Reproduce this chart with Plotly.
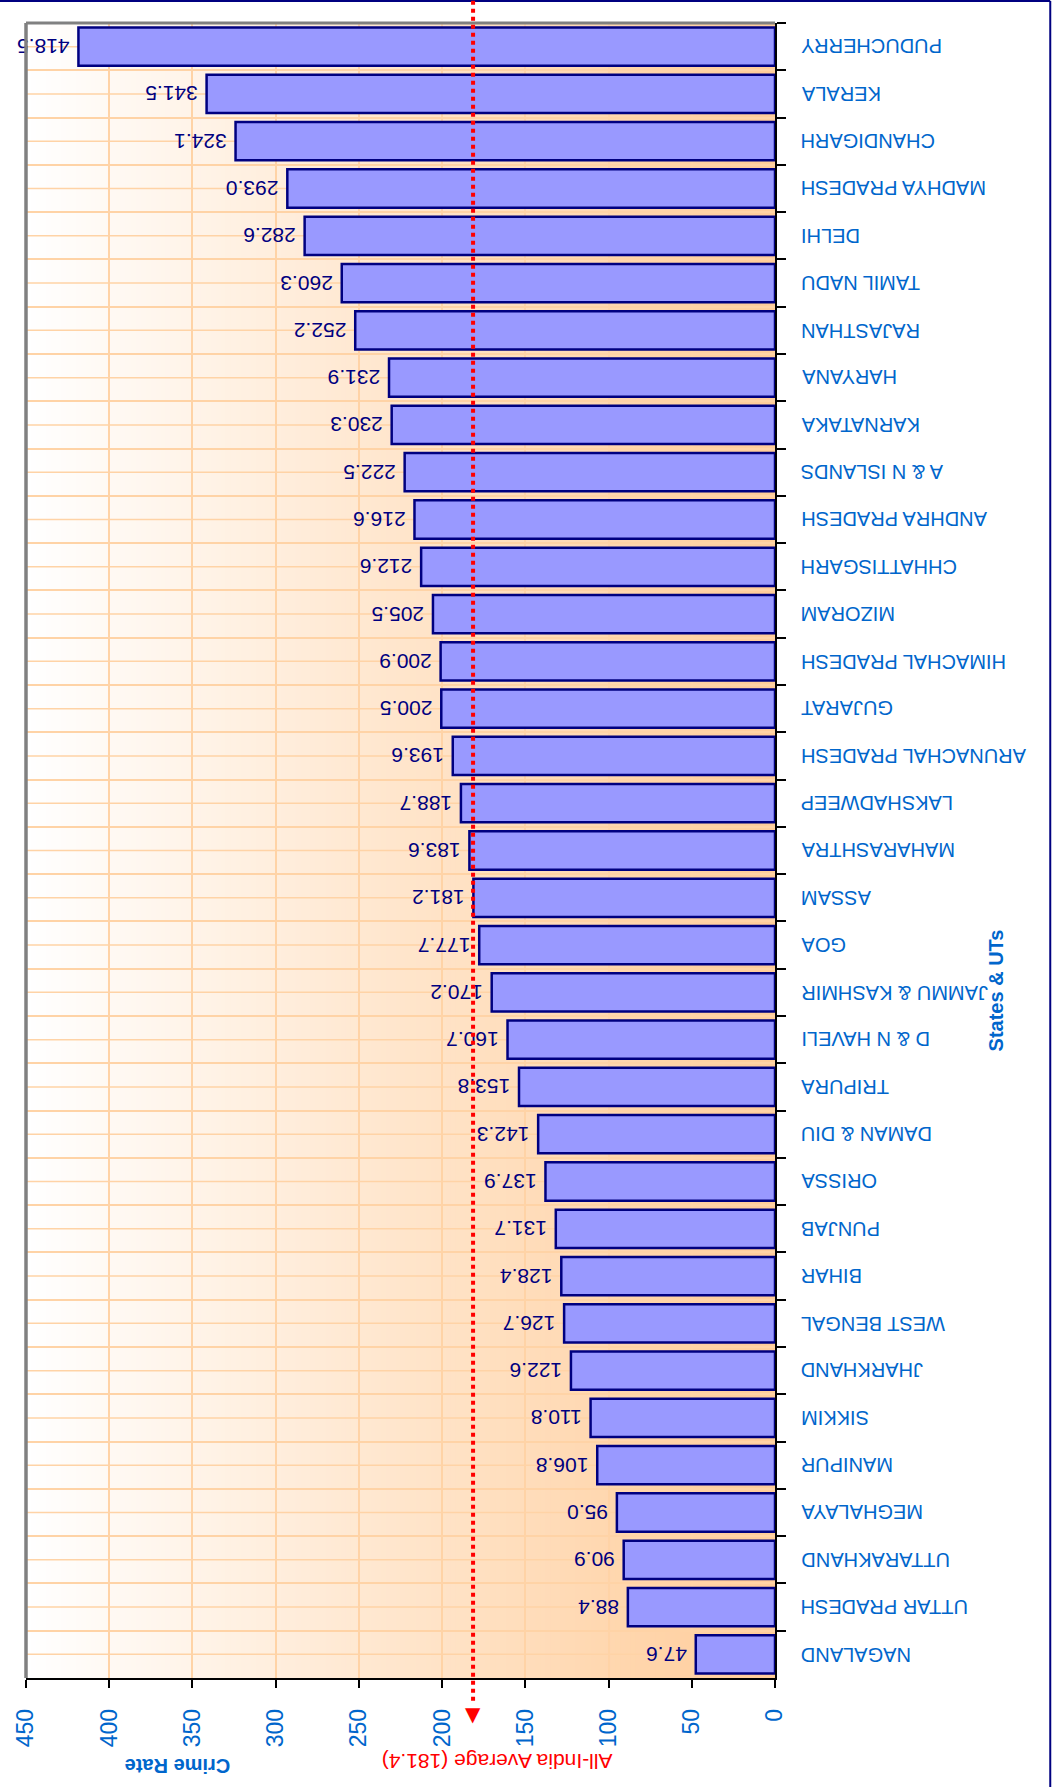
import plotly.graph_objects as go

# Crime rate by State / UT, listed top to bottom
states = [
    "PUDUCHERRY", "KERALA", "CHANDIGARH", "MADHYA PRADESH", "DELHI",
    "TAMIL NADU", "RAJASTHAN", "HARYANA", "KARNATAKA", "A & N ISLANDS",
    "ANDHRA PRADESH", "CHHATTISGARH", "MIZORAM", "HIMACHAL PRADESH", "GUJARAT",
    "ARUNACHAL PRADESH", "LAKSHADWEEP", "MAHARASHTRA", "ASSAM", "GOA",
    "JAMMU & KASHMIR", "D & N HAVELI", "TRIPURA", "DAMAN & DIU", "ORISSA",
    "PUNJAB", "BIHAR", "WEST BENGAL", "JHARKHAND", "SIKKIM",
    "MANIPUR", "MEGHALAYA", "UTTARAKHAND", "UTTAR PRADESH", "NAGALAND",
]
crime_rate = [
    418.5, 341.5, 324.1, 293.0, 282.6,
    260.3, 252.2, 231.9, 230.3, 222.5,
    216.6, 212.6, 205.5, 200.9, 200.5,
    193.6, 188.7, 183.6, 181.2, 177.7,
    170.2, 160.7, 153.8, 142.3, 137.9,
    131.7, 128.4, 126.7, 122.6, 110.8,
    106.8, 95.0, 90.9, 88.4, 47.6,
]
all_india_avg = 181.4
x_ticks = [0, 50, 100, 150, 200, 250, 300, 350, 400, 450]

BLUE = "#0066CC"
NAVY = "#000080"
GRID = "#FFD3A6"
FONT = "Liberation Sans, Arial, sans-serif"

fig = go.Figure()

fig.add_trace(go.Bar(
    x=crime_rate,
    y=states,
    orientation="h",
    marker=dict(color="#9999FF", line=dict(color=NAVY, width=2.5)),
    text=crime_rate,
    texttemplate="\u00a0%{x:.1f}",
    textposition="outside",
    textangle=180,
    constraintext="none",
    cliponaxis=False,
    textfont=dict(family=FONT, size=21, color=NAVY),
    hoverinfo="skip",
))

shapes = []

# white -> peach background gradient across the value axis
x_max = max(x_ticks)
n_strips = 150
c0 = (255, 255, 255)
c1 = (255, 204, 153)
for i in range(n_strips):
    a = x_max * i / n_strips
    b = x_max * (i + 1) / n_strips
    t = 1 - (a + b) / 2 / x_max
    col = tuple(round(c0[k] + (c1[k] - c0[k]) * t) for k in range(3))
    shapes.append(dict(
        type="rect", xref="x", yref="paper", x0=a, x1=b + 0.5, y0=0, y1=1,
        fillcolor="rgb(%d,%d,%d)" % col, line=dict(width=0), layer="below",
    ))

# extra horizontal grid lines through each category centre
for s in states:
    shapes.append(dict(
        type="line", xref="x", yref="y", x0=0, x1=x_max, y0=s, y1=s,
        line=dict(color=GRID, width=1.5), layer="below",
    ))

# grey plot-area border (left and top)
shapes.append(dict(type="line", xref="paper", yref="paper", x0=0, x1=0, y0=0, y1=1,
                   line=dict(color="#808080", width=3.5)))
shapes.append(dict(type="line", xref="paper", yref="paper", x0=0, x1=1, y0=1, y1=1,
                   line=dict(color="#808080", width=3)))

# outer chart frame (top and right edges)
shapes.append(dict(type="line", xref="paper", yref="paper", x0=-0.05, x1=1.3675,
                   y0=1.0133, y1=1.0133, line=dict(color=NAVY, width=2)))
shapes.append(dict(type="line", xref="paper", yref="paper", x0=1.3675, x1=1.3675,
                   y0=-0.1, y1=1.0133, line=dict(color=NAVY, width=2)))

# All-India average marker line
shapes.append(dict(type="line", xref="x", yref="paper", x0=all_india_avg, x1=all_india_avg,
                   y0=1.0135, y1=-0.016, layer="above",
                   line=dict(color="#FF0000", width=4, dash="dot")))

annotations = []
for s in states:
    annotations.append(dict(
        x=1.032, xref="paper", y=s, yref="y", xanchor="left", yanchor="middle",
        text=s, textangle=180, showarrow=False,
        font=dict(family=FONT, size=20, color=BLUE),
    ))

annotations.append(dict(
    x=all_india_avg, xref="x", y=-0.0135, yref="paper", xanchor="center", yanchor="top",
    text="▼", showarrow=False, font=dict(family="DejaVu Sans", size=20, color="#FF0000"),
))
annotations.append(dict(
    x=0.2024, xref="paper", y=-0.0535, yref="paper", xanchor="center", yanchor="middle",
    text="<b>Crime Rate</b>", textangle=180, showarrow=False,
    font=dict(family=FONT, size=20, color=BLUE),
))
annotations.append(dict(
    x=0.6285, xref="paper", y=-0.050, yref="paper", xanchor="center", yanchor="middle",
    text="All-India Average (%.1f)" % all_india_avg, textangle=180, showarrow=False,
    font=dict(family=FONT, size=21, color="#FF0000"),
))
annotations.append(dict(
    x=1.2956, xref="paper", y=0.4157, yref="paper", xanchor="center", yanchor="middle",
    text="<b>States & UTs</b>", textangle=-90, showarrow=False,
    font=dict(family=FONT, size=20, color=BLUE),
))

fig.update_layout(
    width=1055, height=1787,
    margin=dict(l=24, r=280, t=23, b=109),
    paper_bgcolor="white",
    plot_bgcolor="white",
    showlegend=False,
    bargap=0.19,
    shapes=shapes,
    annotations=annotations,
    xaxis=dict(
        range=[450, 0],
        tickvals=x_ticks,
        ticktext=[str(v) for v in x_ticks],
        tickangle=-90,
        ticks="outside", ticklen=8, tickcolor="black", tickwidth=1.5,
        showline=True, linecolor="black", linewidth=1.5,
        showgrid=True, gridcolor=GRID, gridwidth=1.5,
        zeroline=False,
        tickfont=dict(family=FONT, size=23, color=BLUE),
        ticklabelstandoff=12,
    ),
    yaxis=dict(
        autorange="reversed",
        side="right",
        tickson="boundaries",
        ticks="outside", ticklen=9, tickcolor="black", tickwidth=1.5,
        showline=True, linecolor="black", linewidth=1.5,
        showgrid=True, gridcolor=GRID, gridwidth=1.5,
        showticklabels=False,
    ),
)

fig.write_html("out.html")
